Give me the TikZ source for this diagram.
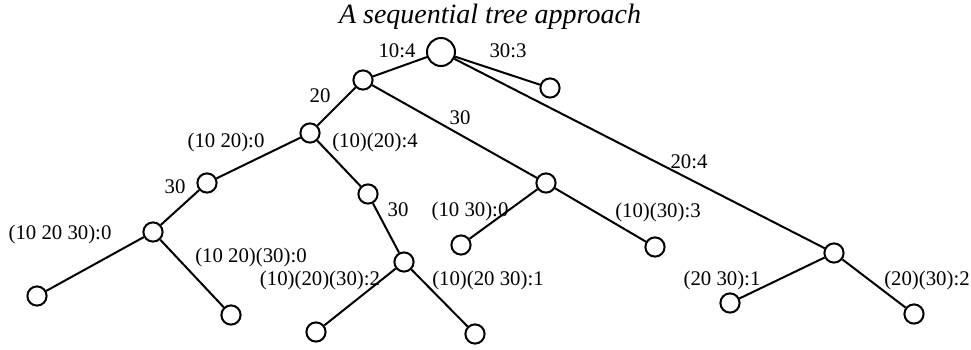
\documentclass[tikz,border=0pt]{standalone}
\usepackage{fontspec}
\setmainfont{Liberation Serif}
\tikzset{
	vert/.style={draw, circle, line width=1pt, inner sep=0pt, minimum size=9.6pt, fill=white},
	rootvert/.style={vert, minimum size=14pt},
	edge/.style={line width=1pt},
	lab/.style={anchor=base, inner sep=0pt, font=\fontsize{10.4}{12}\selectfont}
}
\begin{document}
\begin{tikzpicture}[x=0.5pt,y=-0.5pt]
		\useasboundingbox (0,0) rectangle (971,349);
		
		\node[anchor=base, inner sep=0pt, font=\fontsize{14}{16}\selectfont\itshape] (title) at (490,23) {A sequential tree approach};
		
		\node[rootvert] (root) at (441,52) {};
		\node[vert] (n1) at (363,80) {};
		\node[vert] (n3) at (550,88) {};
		\node[vert] (n2) at (834,253) {};
		\node[vert] (n12) at (310,133) {};
		\node[vert] (n13) at (546,183) {};
		\node[vert] (n123) at (207,183) {};
		\node[vert] (n12c) at (368,194) {};
		\node[vert] (m123) at (153,232) {};
		\node[vert] (m12c) at (404,262) {};
		
		\node[vert] (leafa) at (37,296) {};
		\node[vert] (leafb) at (231,315) {};
		\node[vert] (leafc) at (316,332) {};
		\node[vert] (leafd) at (475,334) {};
		\node[vert] (leafe) at (461,245) {};
		\node[vert] (leaff) at (655,247) {};
		\node[vert] (leafg) at (730,303) {};
		\node[vert] (leafh) at (914,314) {};
		
		\draw[edge] (root) -- (n1);
		\draw[edge] (root) -- (n3);
		\draw[edge] (root) -- (n2);
		\draw[edge] (n1) -- (n12);
		\draw[edge] (n1) -- (n13);
		\draw[edge] (n12) -- (n123);
		\draw[edge] (n12) -- (n12c);
		\draw[edge] (n123) -- (m123);
		\draw[edge] (n12c) -- (m12c);
		\draw[edge] (m123) -- (leafa);
		\draw[edge] (m123) -- (leafb);
		\draw[edge] (m12c) -- (leafc);
		\draw[edge] (m12c) -- (leafd);
		\draw[edge] (n13) -- (leafe);
		\draw[edge] (n13) -- (leaff);
		\draw[edge] (n2) -- (leafg);
		\draw[edge] (n2) -- (leafh);
		
		\node[lab] (l10) at (397,57) {10:4};
		\node[lab] (l30) at (508,57) {30:3};
		\node[lab] (l20) at (320,102) {20};
		\node[lab] (l130) at (460,124) {30};
		\node[lab] (l204) at (689,168) {20:4};
		\node[lab] (l1020) at (226,147) {(10 20):0};
		\node[lab] (l10c20) at (375,147) {(10)(20):4};
		\node[lab] (l1230) at (175,193) {30};
		\node[lab] (l12c30) at (398,216) {30};
		\node[lab] (l1030) at (470,216) {(10 30):0};
		\node[lab] (l10c30) at (658,217) {(10)(30):3};
		\node[lab] (lall) at (60,239) {(10 20 30):0};
		\node[lab] (l1020c30) at (251,262) {(10 20)(30):0};
		\node[lab] (lsep) at (320,285) {(10)(20)(30):2};
		\node[lab] (l10c2030) at (488,285) {(10)(20 30):1};
		\node[lab] (l2030) at (722,285) {(20 30):1};
		\node[lab] (l20c30) at (927,285) {(20)(30):2};
		
\end{tikzpicture}
\end{document}
